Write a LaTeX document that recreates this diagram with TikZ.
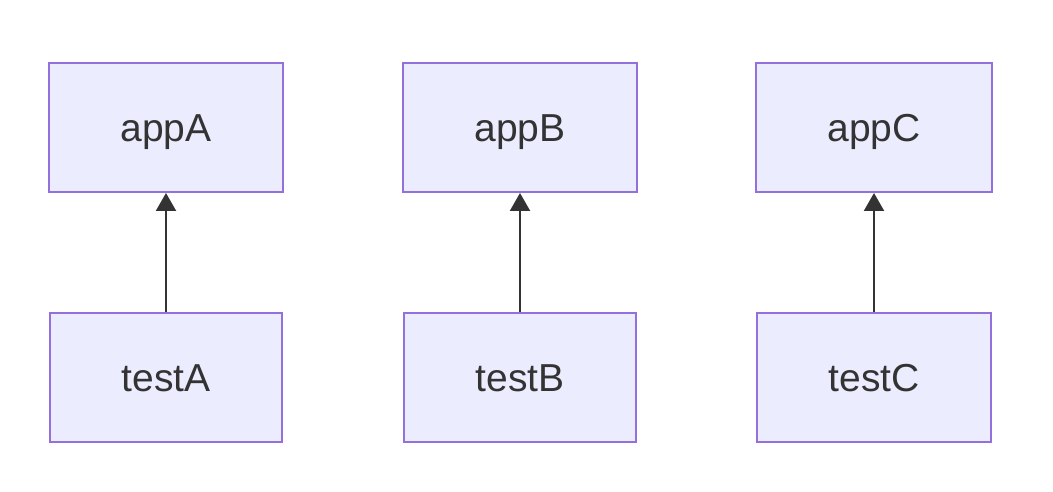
\documentclass[tikz,border=0pt]{standalone}
\usepackage{fontspec}
\setmainfont{Liberation Sans}
\usetikzlibrary{arrows.meta}
\definecolor{boxfill}{HTML}{ECECFF}
\definecolor{boxline}{HTML}{9370DB}
\definecolor{ink}{HTML}{333333}
\tikzset{
  modbox/.style={draw=boxline, fill=boxfill, line width=2pt, text=ink,
    minimum width=#1, minimum height=129pt, inner sep=0pt,
    text height=29pt, text depth=0pt,
    font=\fontsize{39}{46}\selectfont},
  modbox/.default=234pt,
  dep/.style={draw=ink, line width=2.2pt, -{Triangle[length=18pt,width=20pt]}}
}
\begin{document}
\begin{tikzpicture}[x=1pt, y=1pt]
    \useasboundingbox (0,0) rectangle (1053,-492);
    \node[modbox] (appA) at (166,-127.5) {appA};
    \node[modbox] (appB) at (520,-127.5) {appB};
    \node[modbox=236pt] (appC) at (874,-127.5) {appC};
    \node[modbox=232pt] (testA) at (166,-377) {testA};
    \node[modbox=232pt] (testB) at (520,-377) {testB};
    \node[modbox=234pt] (testC) at (874,-377) {testC};
    \draw[dep] (testA) -- (appA);
    \draw[dep] (testB) -- (appB);
    \draw[dep] (testC) -- (appC);
  \end{tikzpicture}
\end{document}
